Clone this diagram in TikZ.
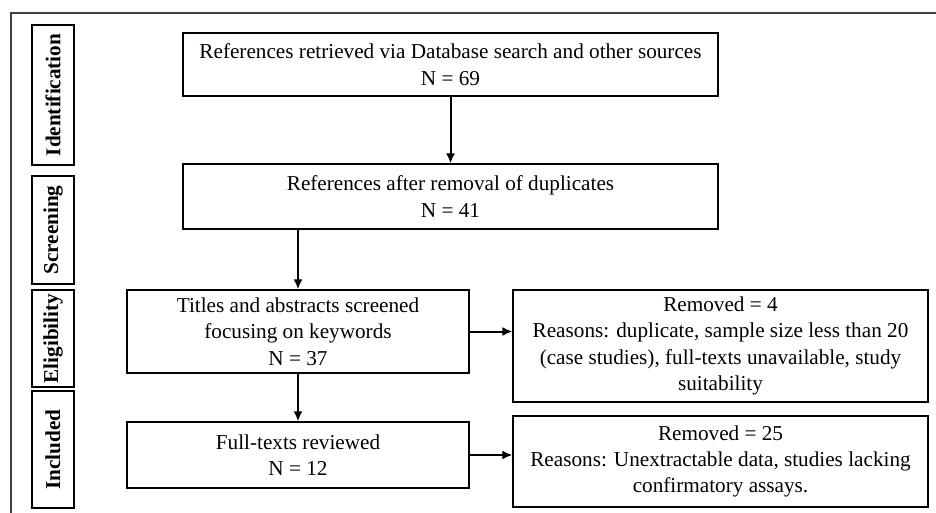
\documentclass[tikz,border=0pt]{standalone}
\usepackage{fontspec}
\setmainfont{Liberation Serif}
\usetikzlibrary{positioning, arrows.meta}

\tikzstyle{block} = [rectangle, draw, line width=.6pt, text centered, align=center, inner sep=0pt, font=\fontsize{10.6}{13.2}\selectfont]
\tikzstyle{stage} = [rectangle, draw, line width=.6pt, rotate=90, inner sep=0pt, minimum height=21pt, font=\bfseries\fontsize{10.6}{13}\selectfont]
\tikzstyle{line} = [draw, -{Latex[length=5pt, width=4.5pt]}, line width=1pt]

\begin{document}
\begin{tikzpicture}[x=0.5pt, y=-0.5pt]

    \useasboundingbox (0,0) rectangle (936,513);

    % frame (top and left edge only)
        \draw[line width=.6pt, black!75] (936,13) -- (11,13) -- (11,513);

    % STAGES on the left
        \node [stage, minimum width=70pt]   at (53,95)    (identification) {Identification};
        \node [stage, minimum width=54pt]   at (53,230)   (screening) {Screening};
        \node [stage, minimum width=48.5pt] at (53,338.5) (eligibility) {Eligibility};
        \node [stage, minimum width=58.5pt] at (53,449.5) (included) {Included};

    % MAIN column
        \node [block, minimum width=267.5pt, minimum height=31.5pt] at (450.5,64.5)
            (retrieved) {References retrieved via Database search and other sources\\N = 69};
        \node [block, minimum width=267.5pt, minimum height=32.5pt] at (450.5,196.5)
            (dedup) {References after removal of duplicates\\N = 41};
        \node [block, minimum width=171pt, minimum height=41.5pt] at (298,331.5)
            (titles) {Titles and abstracts screened\\focusing on keywords\\N = 37};
        \node [block, minimum width=171pt, minimum height=33pt] at (298,455)
            (fulltext) {Full-texts reviewed\\N = 12};

    % REMOVED boxes on the right
        \node [block, minimum width=207.5pt, minimum height=56pt] at (720.5,346)
            (removed1) {Removed = 4\\Reasons: duplicate, sample size less than 20\\(case studies), full-texts unavailable, study\\suitability};
        \node [block, minimum width=207.5pt, minimum height=45.5pt] at (720.5,461.5)
            (removed2) {Removed = 25\\Reasons: Unextractable data, studies lacking\\confirmatory assays.};

    % LINES down the main column
        \path[line] (retrieved) -- (dedup);
        \path[line] (dedup.south -| titles.north) -- (titles.north);
        \path[line] (titles) -- (fulltext);

    % LINES to the right
        \path[line] (titles.east) -- (titles.east -| removed1.west);
        \path[line] (fulltext.east) -- (fulltext.east -| removed2.west);

\end{tikzpicture}
\end{document}
